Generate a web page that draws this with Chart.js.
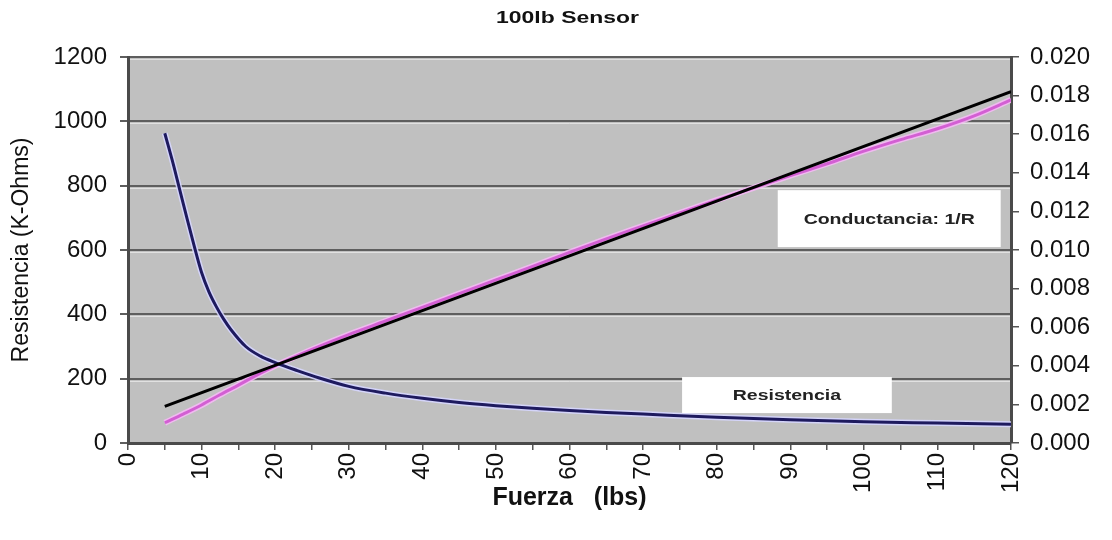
<!DOCTYPE html>
<html>
<head>
<meta charset="utf-8">
<script src="https://cdn.jsdelivr.net/npm/chart.js@4.4.1/dist/chart.umd.min.js"></script>
<style>
  html, body { margin: 0; padding: 0; background: #ffffff; }
  #wrap { width: 1112px; height: 540px; position: relative; }
</style>
</head>
<body>
<div id="wrap"><canvas id="sensor" width="1112" height="540"></canvas></div>
<script>
// Force (lbs) at which resistance was sampled, and resistance in K-Ohms
const fuerzaR = [5, 6, 7, 8, 9, 10, 11, 12, 13, 14, 16, 18, 20, 23, 26, 30, 35, 40, 45, 50, 55, 60, 65, 70, 80, 90, 100, 110, 120];
const resistencia = [963, 880, 790, 700, 612, 530, 470, 424, 385, 352, 300, 270, 250, 225, 202, 176, 155, 139, 126, 116, 108, 101, 95, 90, 80, 72, 66, 62, 58];

// Measured conductance 1/R (right axis)
const fuerzaC = [5, 7.5, 10, 12.5, 15, 17.5, 20, 25, 30, 35, 40, 45, 50, 55, 60, 65, 70, 75, 80, 85, 90, 95, 100, 105, 110, 115, 120];
const conductancia = [0.00105, 0.0015, 0.00197, 0.0025, 0.0030, 0.00352, 0.0040, 0.00485, 0.00562, 0.00632, 0.00703, 0.00774, 0.00845, 0.00915, 0.00988, 0.01058, 0.01125, 0.01192, 0.01258, 0.01322, 0.01385, 0.01447, 0.01512, 0.01572, 0.01628, 0.01695, 0.01778];

// Straight-line fit of the conductance
const fuerzaAjuste = [5, 120];
const ajuste = [0.0019, 0.0182];

// Axis ranges
const fuerzaRango = [0, 120];
const resistenciaRango = [0, 1200];
const conductanciaRango = [0, 0.020];

// Text labels
const tituloGrafico = '100lb Sensor';
const tituloX = 'Fuerza   (lbs)';
const tituloY = 'Resistencia (K-Ohms)';
const etiquetaConductancia = 'Conductancia: 1/R';
const etiquetaResistencia = 'Resistencia';

const FONT = '"Liberation Sans", Arial, Helvetica, sans-serif';

const pares = (xs, ys) => xs.map((x, i) => ({ x: x, y: ys[i] }));

// Grey plot background with a light rim under each grid line
const fondoPlugin = {
  id: 'fondo',
  beforeDraw(chart) {
    const { ctx, chartArea: a } = chart;
    ctx.save();
    ctx.fillStyle = '#c0c0c0';
    ctx.fillRect(a.left, a.top, a.right - a.left, a.bottom - a.top);
    const y = chart.scales.y;
    ctx.strokeStyle = 'rgba(232,232,232,0.8)';
    ctx.lineWidth = 1;
    y.ticks.forEach(t => {
      const py = Math.round(y.getPixelForValue(t.value)) + 2.5;
      if (py < a.bottom) {
        ctx.beginPath();
        ctx.moveTo(a.left, py);
        ctx.lineTo(a.right, py);
        ctx.stroke();
      }
    });
    ctx.restore();
  }
};

// Draws text widened horizontally around its centre
function textoAncho(ctx, texto, cx, cy, font, escala) {
  ctx.save();
  ctx.translate(cx, cy);
  ctx.scale(escala, 1);
  ctx.font = font;
  ctx.textAlign = 'center';
  ctx.textBaseline = 'middle';
  ctx.fillText(texto, 0, 0);
  ctx.restore();
}

// Chart title and the two white series labels
const textosPlugin = {
  id: 'textos',
  afterDraw(chart) {
    const { ctx, chartArea: a, scales } = chart;
    const x = scales.x, y = scales.y;
    ctx.save();
    ctx.fillStyle = '#111';
    textoAncho(ctx, tituloGrafico, (a.left + a.right) / 2 - 2, 18, 'bold 17px ' + FONT, 1.35);

    const caja = (x0, x1, y0, y1, texto) => {
      const l = x.getPixelForValue(x0), r = x.getPixelForValue(x1);
      const t = y.getPixelForValue(y0), b = y.getPixelForValue(y1);
      ctx.fillStyle = '#ffffff';
      ctx.fillRect(l, t, r - l, b - t);
      ctx.fillStyle = '#222';
      textoAncho(ctx, texto, (l + r) / 2, (t + b) / 2 + 1, 'bold 15px ' + FONT, 1.3);
    };
    caja(88.3, 118.6, 786, 609, etiquetaConductancia);
    caja(75.3, 103.8, 205, 93, etiquetaResistencia);
    ctx.restore();
  }
};

new Chart(document.getElementById('sensor'), {
  type: 'line',
  data: {
    datasets: [
      {
        label: 'Ajuste',
        data: pares(fuerzaAjuste, ajuste),
        yAxisID: 'y1',
        borderColor: '#000000',
        borderWidth: 3,
        pointRadius: 0,
        order: 0
      },
      {
        label: 'Resistencia',
        data: pares(fuerzaR, resistencia),
        yAxisID: 'y',
        borderColor: '#1e1a5e',
        borderWidth: 3,
        pointRadius: 0,
        cubicInterpolationMode: 'monotone',
        order: 1
      },
      {
        label: 'Conductancia',
        data: pares(fuerzaC, conductancia),
        yAxisID: 'y1',
        borderColor: '#d35fd3',
        borderWidth: 3,
        pointRadius: 0,
        cubicInterpolationMode: 'monotone',
        order: 2
      },
      {
        label: 'Resistencia (halo)',
        data: pares(fuerzaR, resistencia),
        yAxisID: 'y',
        borderColor: 'rgba(214,214,255,0.9)',
        borderWidth: 6,
        pointRadius: 0,
        cubicInterpolationMode: 'monotone',
        order: 3
      },
      {
        label: 'Conductancia (halo)',
        data: pares(fuerzaC, conductancia),
        yAxisID: 'y1',
        borderColor: 'rgba(245,185,245,0.9)',
        borderWidth: 6,
        pointRadius: 0,
        cubicInterpolationMode: 'monotone',
        order: 4
      }
    ]
  },
  plugins: [fondoPlugin, textosPlugin],
  options: {
    responsive: false,
    animation: false,
    events: [],
    layout: { padding: { top: 57, right: 0, bottom: 0, left: 0 } },
    plugins: {
      legend: { display: false },
      tooltip: { enabled: false },
      title: { display: false }
    },
    scales: {
      x: {
        type: 'linear',
        min: fuerzaRango[0],
        max: fuerzaRango[1],
        afterFit(s) { s.height = 97; },
        ticks: {
          stepSize: 5,
          autoSkip: false,
          maxRotation: 90,
          minRotation: 90,
          padding: 3,
          color: '#111',
          font: { family: FONT, size: 24 },
          callback: v => (v % 10 === 0 ? String(v) : '')
        },
        grid: { drawOnChartArea: false, drawTicks: true, tickLength: 7, color: '#555', lineWidth: 1.5 },
        border: { display: true, color: '#4a4a4a', width: 3 },
        title: {
          display: true,
          text: tituloX,
          color: '#111',
          font: { family: FONT, size: 25, weight: 'bold' },
          padding: { top: 2, bottom: 27 }
        }
      },
      y: {
        position: 'left',
        min: resistenciaRango[0],
        max: resistenciaRango[1],
        afterFit(s) { s.width = 128; },
        ticks: {
          stepSize: 200,
          padding: 13,
          color: '#111',
          font: { family: FONT, size: 24 },
          callback: v => String(v)
        },
        grid: { drawOnChartArea: true, drawTicks: true, tickLength: 8, color: '#5e5e5e', lineWidth: 2 },
        border: { display: true, color: '#4a4a4a', width: 3 },
        title: {
          display: true,
          text: tituloY,
          color: '#111',
          font: { family: FONT, size: 23 },
          padding: { top: 8, bottom: 0 }
        }
      },
      y1: {
        position: 'right',
        min: conductanciaRango[0],
        max: conductanciaRango[1],
        afterFit(s) { s.width = 101; },
        ticks: {
          stepSize: 0.002,
          padding: 11,
          color: '#111',
          font: { family: FONT, size: 24 },
          callback: v => Number(v).toFixed(3)
        },
        grid: { drawOnChartArea: false, drawTicks: true, tickLength: 8, color: '#555', lineWidth: 1.5 },
        border: { display: true, color: '#4a4a4a', width: 3 }
      }
    }
  }
});
</script>
</body>
</html>
